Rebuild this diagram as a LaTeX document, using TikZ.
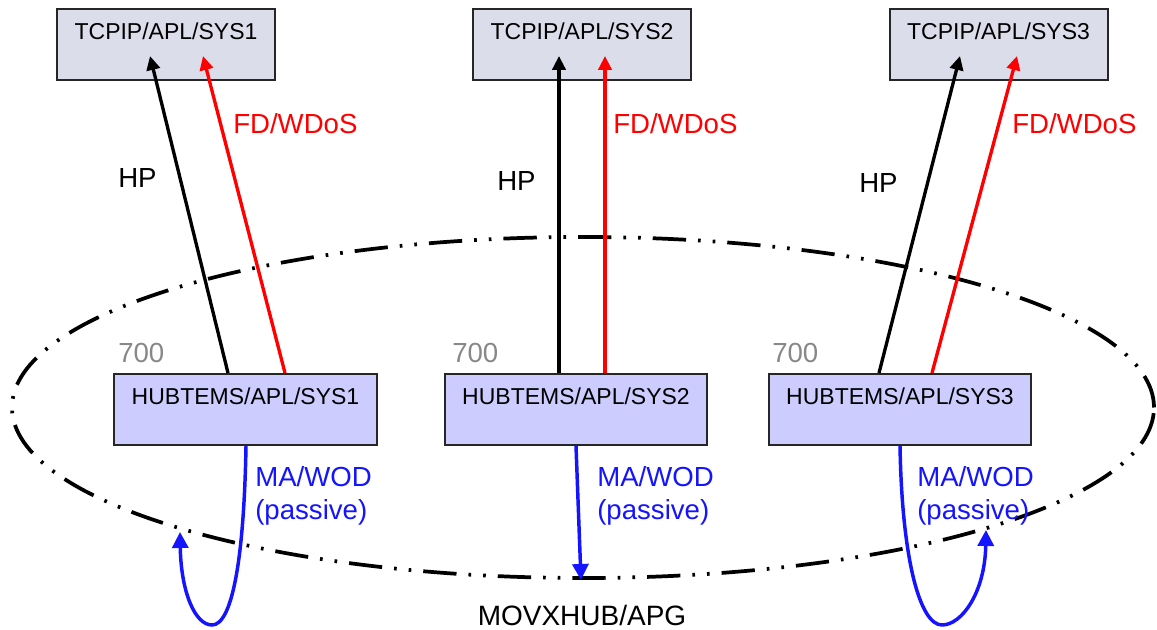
\documentclass[tikz,border=0pt]{standalone}
\usepackage{fontspec}
\setmainfont{Liberation Sans}
\usetikzlibrary{shapes.geometric,arrows.meta,calc}
\definecolor{topfill}{RGB}{220,221,235}
\definecolor{hubfill}{RGB}{204,204,255}
\definecolor{lblue}{RGB}{20,20,255}
\definecolor{lgray}{RGB}{136,136,136}
\begin{document}
\begin{tikzpicture}[x=0.75pt,y=-0.75pt,
  box/.style={draw=black!85, line width=1.5pt, inner sep=0pt,
    text height=23.25pt, text depth=30pt,
    font=\fontsize{17.25pt}{20pt}\selectfont},
  tcp/.style={box, fill=topfill, minimum width=163.5pt},
  hub/.style={box, fill=hubfill, minimum width=197pt},
  lbl/.style={font=\fontsize{20.7pt}{24.75pt}\selectfont, inner sep=0pt, anchor=base west},
  numlbl/.style={lbl, text=lgray},
  hplbl/.style={lbl, text=black},
  fdlbl/.style={lbl, text=red},
  malbl/.style={lbl, text=lblue, align=left},
  hparrow/.style={line width=2.5pt, black, -{Triangle[length=10.5pt,width=10pt]}},
  fdarrow/.style={line width=2.5pt, red, -{Triangle[length=10.5pt,width=10pt]}},
  maarrow/.style={line width=2.6pt, lblue, -{Triangle[length=12pt,width=12pt]}},
  cluster/.style={ellipse, draw=black, line width=2.8pt, inner sep=0pt,
    dash pattern=on 25pt off 9pt on 2pt off 9pt on 2pt off 9pt}
]
\useasboundingbox (0,0) rectangle (1157,630);

% cluster outline
\node[cluster, minimum width=856.5pt, minimum height=255.75pt] (cl) at (583,407.5) {};
\node[lbl, anchor=base, font=\fontsize{21pt}{24pt}\selectfont] (cllbl) at (582,625) {MOVXHUB/APG};

% top boxes
\node[tcp] (t1) at (166,44.5) {TCPIP/APL/SYS1};
\node[tcp] (t2) at (582,44.5) {TCPIP/APL/SYS2};
\node[tcp] (t3) at (998.5,44.5) {TCPIP/APL/SYS3};

% hub boxes
\node[hub] (h1) at (245.5,409.5) {HUBTEMS/APL/SYS1};
\node[hub] (h2) at (576,409.5) {HUBTEMS/APL/SYS2};
\node[hub] (h3) at (900,409.5) {HUBTEMS/APL/SYS3};

% 700 labels
\node[numlbl] (n1) at (118,363) {700};
\node[numlbl] (n2) at (452,363) {700};
\node[numlbl] (n3) at (772,363) {700};

% HP / FD arrows
\draw[hparrow] ($(h1.north)+(-17.5,0)$) -- ($(t1.south)+(-16,-25)$);
\draw[fdarrow] ($(h1.north)+(39.5,0)$) -- ($(t1.south)+(37,-25)$);
\draw[hparrow] ($(h2.north)+(-17,0)$) -- ($(t2.south)+(-23,-25)$);
\draw[fdarrow] ($(h2.north)+(29,0)$) -- ($(t2.south)+(23,-25)$);
\draw[hparrow] ($(h3.north)+(-21,0)$) -- ($(t3.south)+(-38.5,-25)$);
\draw[fdarrow] ($(h3.north)+(32,0)$) -- ($(t3.south)+(18.5,-25)$);

\node[hplbl] (hp1) at (118,188) {HP};
\node[fdlbl] (fd1) at (233,134) {FD/WDoS};
\node[hplbl] (hp2) at (497,191) {HP};
\node[fdlbl] (fd2) at (613,134) {FD/WDoS};
\node[hplbl] (hp3) at (859,193) {HP};
\node[fdlbl] (fd3) at (1012,134) {FD/WDoS};

% MA/WOD arrows
\coordinate (e1) at (180,532);
\coordinate (e2) at (581,580);
\coordinate (e3) at (986,530);
\draw[maarrow] ($(h1.south)+(0.5,0)$) .. controls (244,560) and (232,625) .. (212,625)
  .. controls (195,625) and (181,592) .. (e1);
\draw[maarrow] (h2.south) -- (e2);
\draw[maarrow] (h3.south) .. controls (902,560) and (920,625) .. (942,625)
  .. controls (962,625) and (985,592) .. (e3);

\node[malbl] (ma1) at (255,520) {MA/WOD\\(passive)};
\node[malbl] (ma2) at (597,520) {MA/WOD\\(passive)};
\node[malbl] (ma3) at (917,520) {MA/WOD\\(passive)};
\end{tikzpicture}
\end{document}
